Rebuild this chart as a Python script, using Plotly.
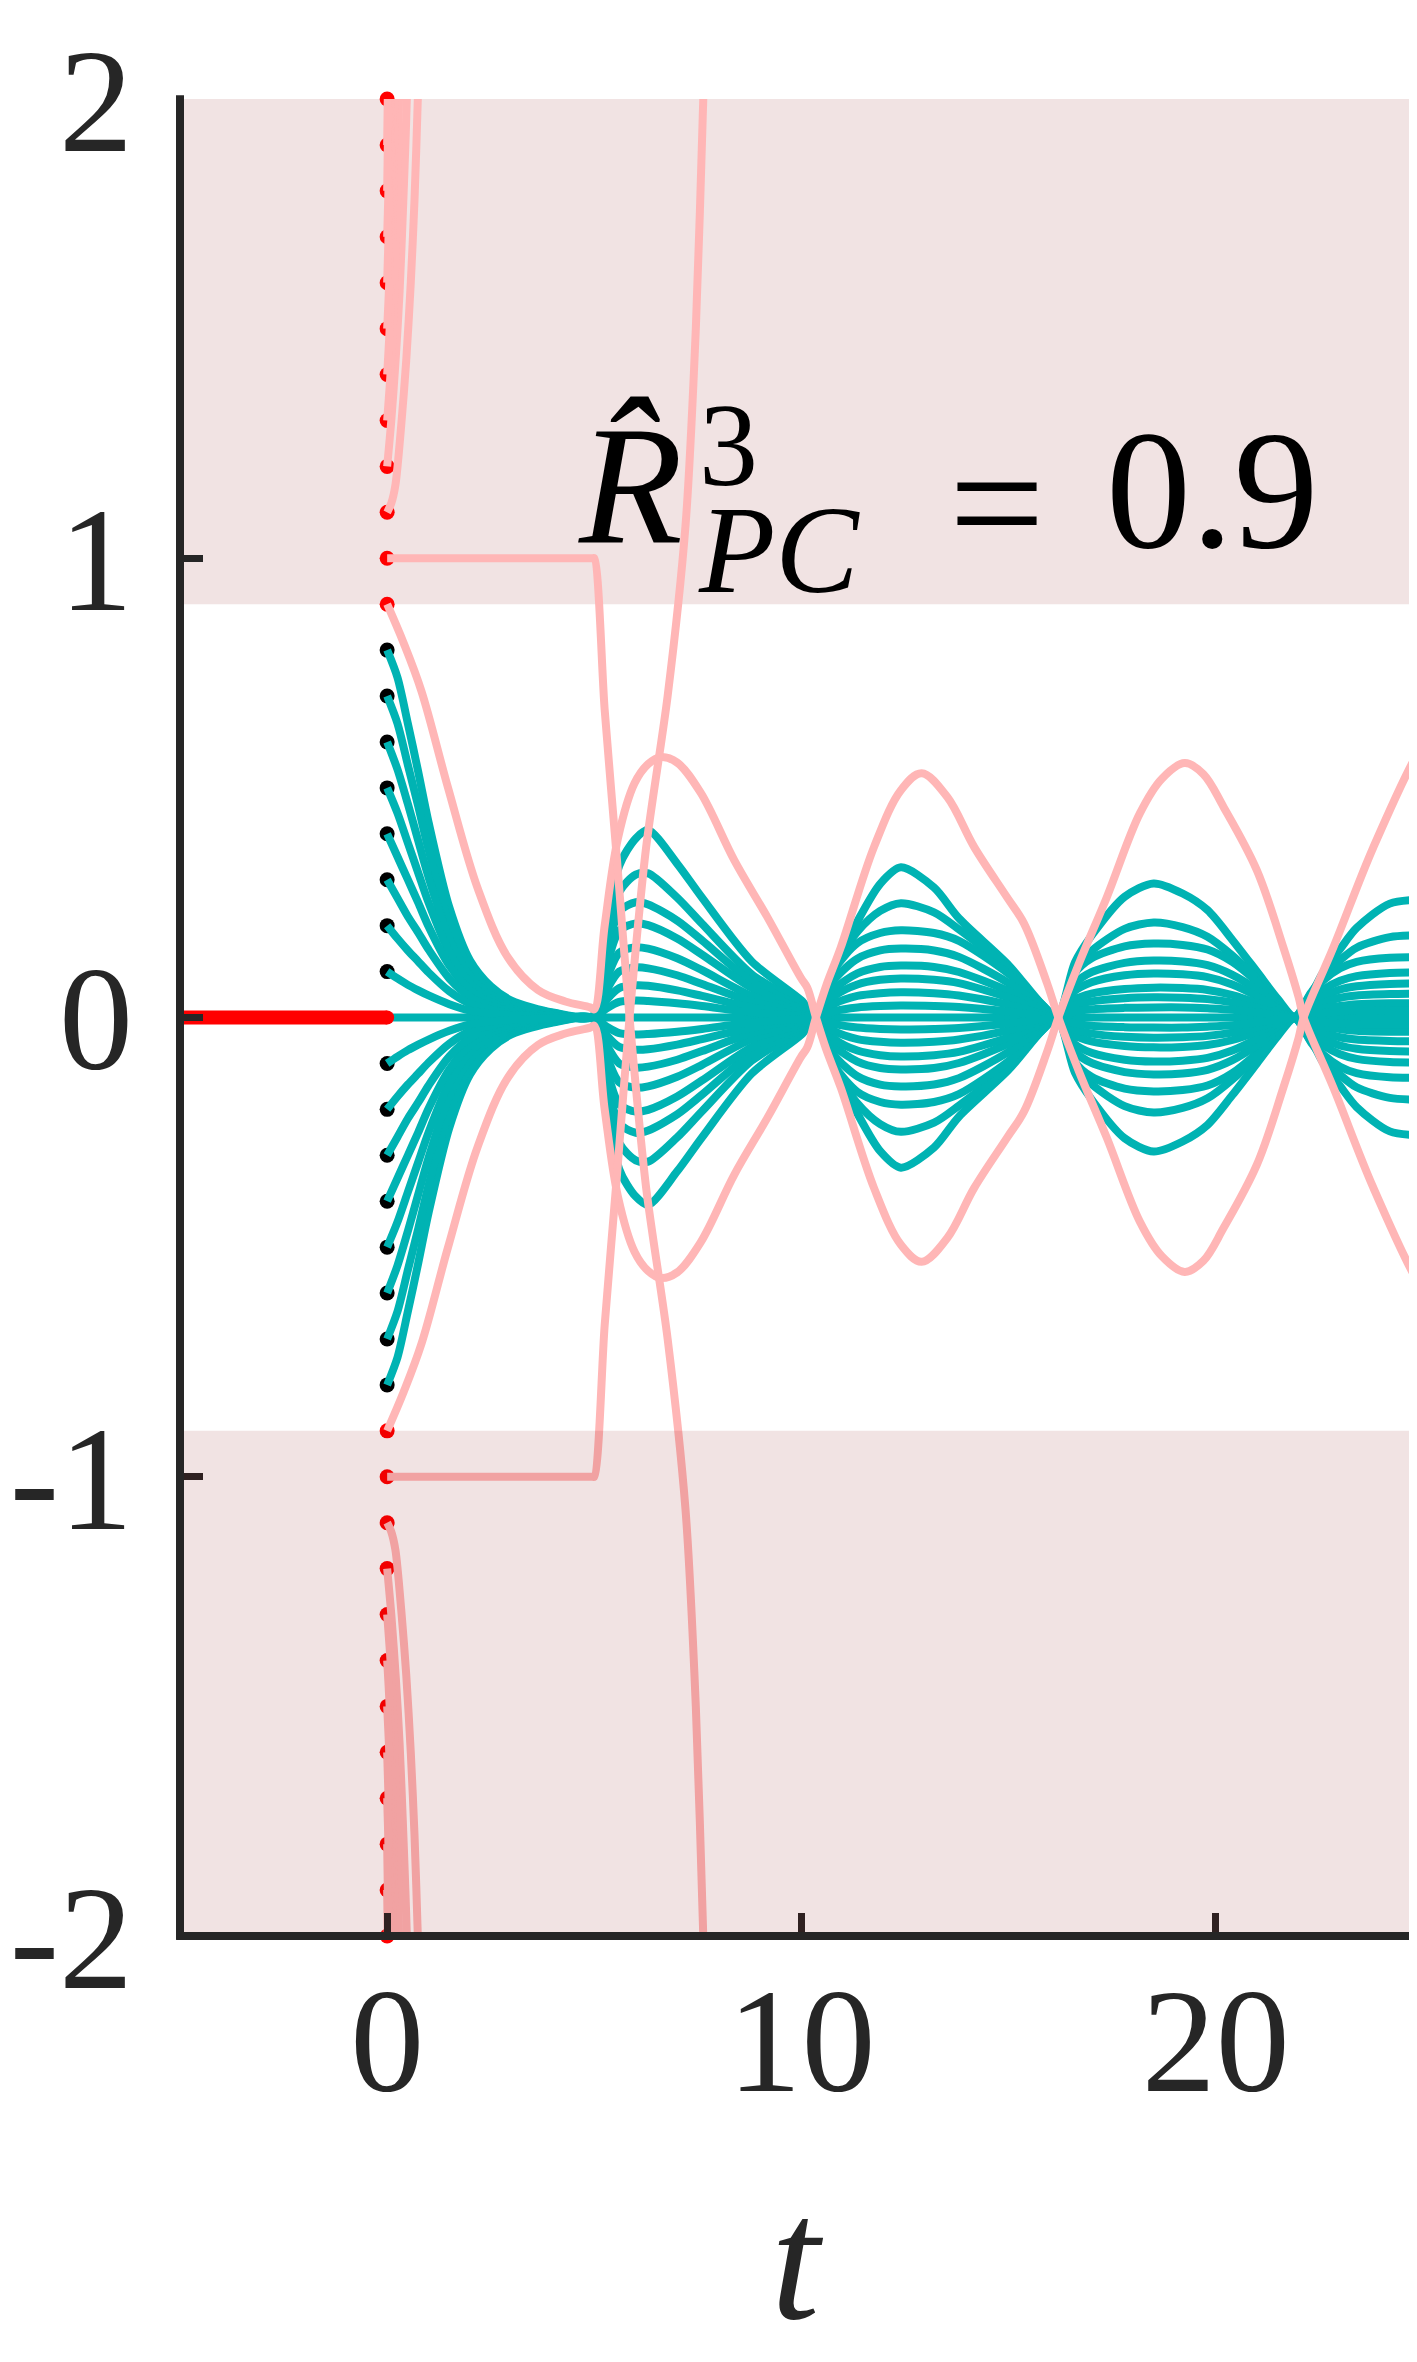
import plotly.graph_objects as go

TEAL = "#00B3B3"
PINK = "#FFB6B6"
RED = "#FF0000"
AXIS = "#262626"
BAND = "rgba(128, 0, 0, 0.11)"
FONT = "Liberation Serif, DejaVu Serif, serif"

# history on t in [-5, 0]
HIST_T = [-5, 0]
HIST_Y = [0, 0]

# initial values at t = 0
RED_DOTS = [2.0, 1.9, 1.8, 1.7, 1.6, 1.5, 1.4, 1.3, 1.2, 1.1, 1.0, 0.9,
            -0.9, -1.0, -1.1, -1.2, -1.3, -1.4, -1.5, -1.6, -1.7, -1.8, -1.9, -2.0]
BLACK_DOTS = [0.8, 0.7, 0.6, 0.5, 0.4, 0.3, 0.2, 0.1,
              -0.1, -0.2, -0.3, -0.4, -0.5, -0.6, -0.7, -0.8]

# teal curves (|x0| <= 0.8), decay phase t = 0..5
T_DECAY = [0, 0.25, 0.5, 0.75, 1.0, 1.5, 2.0, 2.5, 3.0, 4.0, 5.0]
TEAL_DECAY = {
    0.8: [0.80, 0.74, 0.64, 0.535, 0.425, 0.24, 0.124, 0.068, 0.037, 0.011, 0.005],
    0.7: [0.70, 0.64, 0.55, 0.46, 0.365, 0.205, 0.106, 0.058, 0.032, 0.010, 0.004],
    0.6: [0.60, 0.54, 0.465, 0.385, 0.305, 0.172, 0.090, 0.049, 0.027, 0.008, 0.004],
    0.5: [0.50, 0.445, 0.38, 0.315, 0.25, 0.142, 0.075, 0.041, 0.022, 0.007, 0.003],
    0.4: [0.40, 0.35, 0.30, 0.25, 0.198, 0.113, 0.060, 0.033, 0.018, 0.006, 0.002],
    0.3: [0.30, 0.26, 0.22, 0.185, 0.148, 0.085, 0.045, 0.025, 0.014, 0.004, 0.002],
    0.2: [0.20, 0.172, 0.146, 0.122, 0.098, 0.057, 0.030, 0.017, 0.009, 0.003, 0.001],
    0.1: [0.10, 0.085, 0.071, 0.059, 0.048, 0.029, 0.015, 0.009, 0.005, 0.002, 0.001],
}

# teal curves, oscillating phase t > 5
T_OSC = [5.3, 5.6, 6.0, 6.3, 7.0, 7.6, 8.8, 10.0, 10.35,
         10.8, 11.35, 11.9, 12.4, 13.2, 13.8, 15.0, 15.8, 16.17,
         16.6, 17.0, 17.8, 18.5, 19.2, 19.8, 20.4, 21.0, 21.5, 21.9,
         22.3, 22.6, 23.0, 23.4, 24.2, 25.05]
TEAL_OSC = {
    0.8: [0.163, 0.330, 0.390, 0.408, 0.335, 0.261, 0.122, 0.037, 0.003,
          0.110, 0.209, 0.291, 0.327, 0.283, 0.216, 0.114, 0.029, 0.002,
          0.120, 0.178, 0.263, 0.292, 0.270, 0.234, 0.169, 0.099, 0.040, 0.002,
          0.050, 0.100, 0.149, 0.195, 0.248, 0.257],
    0.7: [0.148, 0.273, 0.311, 0.314, 0.261, 0.204, 0.094, 0.028, 0.002,
          0.112, 0.187, 0.232, 0.249, 0.229, 0.192, 0.105, 0.027, 0.001,
          0.104, 0.145, 0.193, 0.207, 0.197, 0.176, 0.135, 0.083, 0.033, 0.001,
          0.054, 0.090, 0.125, 0.152, 0.175, 0.179],
    0.6: [0.138, 0.231, 0.251, 0.246, 0.211, 0.168, 0.078, 0.023, 0.001,
          0.105, 0.162, 0.184, 0.190, 0.184, 0.167, 0.095, 0.029, 0.001,
          0.097, 0.129, 0.155, 0.161, 0.158, 0.148, 0.121, 0.077, 0.032, 0.001,
          0.052, 0.081, 0.107, 0.121, 0.130, 0.131],
    0.5: [0.113, 0.189, 0.205, 0.201, 0.172, 0.137, 0.064, 0.018, 0.001,
          0.083, 0.128, 0.146, 0.150, 0.146, 0.132, 0.075, 0.023, 0.001,
          0.074, 0.099, 0.119, 0.124, 0.122, 0.114, 0.093, 0.060, 0.025, 0.001,
          0.039, 0.061, 0.080, 0.090, 0.097, 0.098],
    0.4: [0.084, 0.141, 0.153, 0.150, 0.129, 0.103, 0.047, 0.014, 0.001,
          0.062, 0.096, 0.110, 0.113, 0.110, 0.099, 0.057, 0.017, 0.001,
          0.058, 0.077, 0.092, 0.096, 0.094, 0.088, 0.072, 0.046, 0.019, 0.000,
          0.030, 0.046, 0.061, 0.068, 0.073, 0.074],
    0.3: [0.060, 0.100, 0.109, 0.107, 0.092, 0.073, 0.034, 0.010, 0.001,
          0.047, 0.072, 0.082, 0.085, 0.082, 0.075, 0.043, 0.013, 0.000,
          0.039, 0.052, 0.062, 0.065, 0.064, 0.060, 0.049, 0.031, 0.013, 0.000,
          0.021, 0.032, 0.043, 0.048, 0.051, 0.052],
    0.2: [0.039, 0.064, 0.070, 0.069, 0.059, 0.047, 0.022, 0.006, 0.000,
          0.030, 0.047, 0.053, 0.055, 0.053, 0.048, 0.028, 0.008, 0.000,
          0.026, 0.035, 0.042, 0.044, 0.043, 0.040, 0.033, 0.021, 0.009, 0.000,
          0.012, 0.019, 0.025, 0.029, 0.031, 0.031],
    0.1: [0.020, 0.034, 0.037, 0.036, 0.031, 0.025, 0.011, 0.003, 0.000,
          0.014, 0.022, 0.025, 0.026, 0.025, 0.023, 0.013, 0.004, 0.000,
          0.013, 0.018, 0.021, 0.022, 0.022, 0.020, 0.017, 0.011, 0.004, 0.000,
          0.006, 0.010, 0.013, 0.015, 0.016, 0.016],
}

T_ZERO = [0, 25.05]
Y_ZERO = [0, 0]

# pink curve from x0 = +0.9 (the -0.9 one is its mirror image)
T_P09 = [0, 0.4, 0.83, 1.47, 2.19, 2.92, 3.64, 4.3, 4.9, 5.0,
         5.25, 5.57, 5.97, 6.3, 6.6, 7.0, 7.57, 8.38, 9.18, 9.98, 10.14,
         10.35, 10.6, 10.95, 11.75, 12.4, 12.9, 13.52, 14.17, 14.96, 15.37,
         15.93, 16.2, 16.7, 17.37, 18.17, 18.7, 19.25, 19.7, 20.19, 20.99,
         21.63, 22.0, 22.12, 22.84, 23.8, 24.9, 25.05]
Y_P09 = [0.9, 0.815, 0.71, 0.50, 0.28, 0.13, 0.06, 0.035, 0.022, 0.018,
         0.2, 0.39, 0.51, 0.552, 0.567, 0.555, 0.489, 0.342, 0.218, 0.087, 0.065,
         0.0, -0.07, -0.153, -0.371, -0.495, -0.532, -0.48, -0.371, -0.262, -0.205,
         -0.074, 0.0, 0.118, 0.262, 0.445, 0.52, 0.554, 0.53, 0.458, 0.321,
         0.153, 0.044, 0.0, -0.153, -0.37, -0.578, -0.59]

# pink curve from x0 = +1.0
T_P10 = [0, 4.95, 5.0, 5.25, 5.55, 5.85, 6.25, 6.77, 7.2, 7.45, 7.63, 7.75]
Y_P10 = [1.0, 1.0, 1.0, 0.67, 0.34, 0.0, -0.37, -0.7, -1.07, -1.5, -2.0, -2.4]

# pink curves that leave the window before t = 1
BLOWUP_T = {
    1.1: [0, 0.1, 0.2, 0.34, 0.46, 0.57, 0.66, 0.74, 0.78],
    1.2: [0, 0.1, 0.21, 0.3, 0.38, 0.44, 0.475, 0.5],
    1.3: [0, 0.08, 0.16, 0.23, 0.28, 0.31],
    1.4: [0, 0.06, 0.12, 0.17, 0.2],
    1.5: [0, 0.05, 0.09, 0.13, 0.15],
    1.6: [0, 0.04, 0.07, 0.1],
    1.7: [0, 0.03, 0.05, 0.07],
    1.8: [0, 0.02, 0.04],
    1.9: [0, 0.015, 0.025],
    2.0: [0, 0.01],
}
BLOWUP_Y = {
    1.1: [1.1, 1.12, 1.16, 1.29, 1.43, 1.6, 1.78, 2.0, 2.15],
    1.2: [1.2, 1.3, 1.44, 1.58, 1.755, 1.9, 2.0, 2.1],
    1.3: [1.3, 1.4, 1.55, 1.75, 1.95, 2.2],
    1.4: [1.4, 1.5, 1.68, 1.92, 2.2],
    1.5: [1.5, 1.6, 1.75, 2.0, 2.2],
    1.6: [1.6, 1.72, 1.88, 2.1],
    1.7: [1.7, 1.8, 1.95, 2.15],
    1.8: [1.8, 1.92, 2.08],
    1.9: [1.9, 2.0, 2.1],
    2.0: [2.0, 2.1],
}

X_TICKS = [0, 10, 20]
Y_TICKS = [-2, -1, 0, 1, 2]
Y_TICKTEXT = ["-2", "-1", "0", "1", "2"]

LW = 8


def line(x, y, color, width=LW, smoothing=0.8):
    return go.Scatter(x=x, y=y, mode="lines", hoverinfo="skip",
                      line=dict(color=color, width=width, shape="spline", smoothing=smoothing))


fig = go.Figure()

# dots first, curves start on top of them
fig.add_trace(go.Scatter(x=[0] * len(BLACK_DOTS), y=BLACK_DOTS, mode="markers",
                         marker=dict(color="black", size=15), cliponaxis=False))
fig.add_trace(go.Scatter(x=[0] * len(RED_DOTS), y=RED_DOTS, mode="markers",
                         marker=dict(color=RED, size=15), cliponaxis=False))

fig.add_trace(line(T_ZERO, Y_ZERO, TEAL))
for x0 in TEAL_DECAY:
    vals = TEAL_DECAY[x0] + TEAL_OSC[x0]
    for sign in (1, -1):
        fig.add_trace(line(T_DECAY + T_OSC, [sign * v for v in vals], TEAL))

for sign in (1, -1):
    fig.add_trace(line(T_P09, [sign * v for v in Y_P09], PINK, smoothing=1.0))
    fig.add_trace(line(T_P10, [sign * v for v in Y_P10], PINK))
    for x0 in BLOWUP_T:
        fig.add_trace(line(BLOWUP_T[x0], [sign * v for v in BLOWUP_Y[x0]], PINK))

fig.add_trace(go.Scatter(x=HIST_T, y=HIST_Y, mode="lines", line=dict(color=RED, width=14)))
fig.add_trace(go.Scatter(x=[0], y=[0], mode="markers", marker=dict(color=RED, size=14)))

# shaded regions |x| > 0.9
fig.add_shape(type="rect", xref="x", yref="y", x0=-5, x1=25.05, y0=0.9, y1=2,
              fillcolor=BAND, line_width=0, layer="below")
fig.add_shape(type="rect", xref="x", yref="y", x0=-5, x1=25.05, y0=-2, y1=-0.9,
              fillcolor=BAND, line_width=0, layer="above")

# spines (left and bottom only)
fig.add_shape(type="line", xref="paper", yref="paper", x0=0, x1=0, y0=-0.002, y1=1.002,
              line=dict(color=AXIS, width=8), layer="above")
fig.add_shape(type="line", xref="paper", yref="paper", x0=-0.003, x1=1, y0=0, y1=0,
              line=dict(color=AXIS, width=8), layer="above")

# \hat{R}^{3}_{PC} = 0.9
txt_font = dict(family=FONT, color="black")
fig.add_annotation(x=5.88, y=1.157, xref="x", yref="y", text="<i>R\u0302</i>",
                   showarrow=False, xanchor="center", yanchor="middle",
                   font=dict(size=170, **txt_font))
fig.add_annotation(
    x=7.45, y=1.128, xref="x", yref="y", showarrow=False,
    xanchor="left", yanchor="middle", align="left",
    text=("<span style='font-size:118px'>3</span><br>"
          "<i><span style='font-size:125px'>PC</span></i>"),
    font=dict(size=82, **txt_font))
fig.add_annotation(x=14.72, y=1.121, xref="x", yref="y", text="=", showarrow=False,
                   xanchor="center", yanchor="middle", font=dict(size=170, **txt_font))
fig.add_annotation(x=19.93, y=1.148, xref="x", yref="y", text="0.9", showarrow=False,
                   xanchor="center", yanchor="middle", font=dict(size=170, **txt_font))

fig.add_annotation(x=0.496, y=-0.176, xref="paper", yref="paper", text="<i>t</i>",
                   showarrow=False, xanchor="center", yanchor="middle",
                   font=dict(family=FONT, size=175, color=AXIS))

axis_common = dict(ticks="inside", ticklen=23, tickwidth=7, tickcolor=AXIS,
                   showgrid=False, zeroline=False, showline=False, automargin=False,
                   tickfont=dict(family=FONT, size=148, color=AXIS))

fig.update_layout(
    width=1417, height=2362,
    margin=dict(l=172, r=0, t=91, b=434, pad=0, autoexpand=False),
    paper_bgcolor="white", plot_bgcolor="white",
    showlegend=False,
    font=dict(family=FONT),
    xaxis=dict(range=[-5, 25.05], tickvals=X_TICKS, ticktext=[str(v) for v in X_TICKS],
               ticklabelstandoff=6, **axis_common),
    yaxis=dict(range=[-2, 2], tickvals=Y_TICKS, ticktext=Y_TICKTEXT,
               ticklabelstandoff=46, **axis_common),
)

fig.write_html("out.html")
